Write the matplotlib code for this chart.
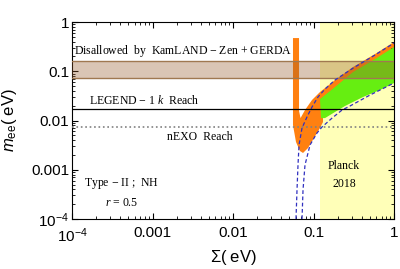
import numpy as np
import matplotlib.pyplot as plt
from matplotlib.ticker import FixedLocator, FixedFormatter, LogLocator, NullFormatter

plt.rcParams['font.family'] = 'Liberation Sans'
plt.rcParams['mathtext.fontset'] = 'custom'
plt.rcParams['mathtext.rm'] = 'Liberation Serif'
plt.rcParams['mathtext.it'] = 'Liberation Serif:italic'
plt.rcParams['mathtext.sf'] = 'Liberation Sans'
plt.rcParams['mathtext.bf'] = 'Liberation Sans:italic'

# limites experimentales
kamland_lo, kamland_hi = 0.0727, 0.16
legend_reach = 0.017
nexo_reach = 0.0074
planck_min = 0.12

# curvas de borde NH (Sigma, m_ee)
upper_sum = [0.0606, 0.0624, 0.0642, 0.0661, 0.0720, 0.0830, 0.0958, 0.1137, 0.139, 0.185, 0.31, 0.58, 1.0]
upper_mee = [1e-4, 0.00039, 0.00125, 0.00318, 0.00704, 0.0118, 0.0188, 0.0300, 0.0436, 0.0664, 0.116, 0.214, 0.375]
lower_sum = [0.0720, 0.0741, 0.0784, 0.0905, 0.1105, 0.1275, 0.170, 0.226, 0.284, 0.503, 0.944, 1.0]
lower_mee = [1e-4, 0.00039, 0.00125, 0.00318, 0.00557, 0.00738, 0.0112, 0.0163, 0.0197, 0.0329, 0.0551, 0.0577]

# region permitida (naranja)
orange_sum = [0.0556, 0.0661, 0.0661, 0.069, 0.0784, 0.0958, 0.1204, 0.185, 0.3095, 0.581, 1.0,
              1.0, 0.2135, 0.1312, 0.1312, 0.1204, 0.1014, 0.0855, 0.0741, 0.068, 0.0606, 0.0556]
orange_mee = [0.473, 0.473, 0.0157, 0.0112, 0.0163, 0.0261, 0.0379, 0.0664, 0.122, 0.224, 0.393,
              0.169, 0.0329, 0.0163, 0.00932, 0.00704, 0.00441, 0.00276, 0.00219, 0.0024, 0.00366, 0.0081]

# region permitida con Planck (verde)
green_sum = [0.1204, 0.185, 0.3095, 0.581, 1.0, 1.0, 0.670, 0.412, 0.246, 0.185, 0.139, 0.124]
green_mee = [0.0273, 0.0479, 0.0965, 0.177, 0.311, 0.0577, 0.0416, 0.0300, 0.0197, 0.0149, 0.0112, 0.0112]

xticks = [1e-4, 1e-3, 1e-2, 0.1, 1]
xtick_labels = [r'$\mathsf{10^{-4}}$', '0.001', '0.01', '0.1', '1']
yticks = [1e-4, 1e-3, 1e-2, 0.1, 1]
ytick_labels = [r'$\mathsf{10^{-4}}$', '0.001', '0.01', '0.1', '1']

fig = plt.figure(figsize=(4, 2.69), dpi=100)
ax = fig.add_axes([0.18, 0.186, 0.805, 0.732])
ax.set_xscale('log')
ax.set_yscale('log')

ax.axvspan(planck_min, 1, color='#ffffb8', lw=0, zorder=0)
ax.fill(orange_sum, orange_mee, color='#ff8010', lw=0, zorder=1)
ax.fill(green_sum, green_mee, color='#66ee11', lw=0, zorder=2)
ax.axhspan(kamland_lo, kamland_hi, color=(0.59, 0.35, 0.16), alpha=0.35, lw=0, zorder=3)
ax.axhline(kamland_lo, color='#a07850', lw=1, zorder=3)
ax.axhline(kamland_hi, color='#a07850', lw=1, zorder=3)
ax.plot(upper_sum, upper_mee, ls=(0, (3, 2)), color='#3030c0', lw=0.9, zorder=4)
ax.plot(lower_sum, lower_mee, ls=(0, (3, 2)), color='#3030c0', lw=0.9, zorder=4)
ax.axhline(legend_reach, color='black', lw=0.9, zorder=5)
ax.axhline(nexo_reach, color='gray', ls=':', lw=1.2, zorder=5)

ax.set_xlim(1e-4, 1)
ax.set_ylim(1e-4, 1)

serif = dict(family='Liberation Serif', fontsize=8.5, ha='center', va='center', zorder=6)
ax.text(0.00239, 0.258, 'Disallowed  by  KamLAND $-$ Zen + GERDA', **serif)
ax.text(0.000783, 0.0261, r'LEGEND $-$ 1 $k$  Reach', **serif)
ax.text(0.00389, 0.00462, 'nEXO  Reach', **serif)
ax.text(0.000412, 0.000514, 'Type $-$ II ;  NH', **serif)
ax.text(0.000412, 0.000211, r'$r$ = 0.5', **serif)
ax.text(0.235, 0.00119, 'Planck', **serif)
ax.text(0.245, 0.000514, '2018', **serif)

ax.xaxis.set_major_locator(FixedLocator(xticks))
ax.xaxis.set_major_formatter(FixedFormatter(xtick_labels))
ax.yaxis.set_major_locator(FixedLocator(yticks))
ax.yaxis.set_major_formatter(FixedFormatter(ytick_labels))
ax.xaxis.set_minor_locator(LogLocator(base=10, subs=np.arange(2, 10)))
ax.yaxis.set_minor_locator(LogLocator(base=10, subs=np.arange(2, 10)))
ax.xaxis.set_minor_formatter(NullFormatter())
ax.yaxis.set_minor_formatter(NullFormatter())
ax.tick_params(which='both', direction='in', top=True, right=True, labelsize=11)
ax.tick_params(axis='y', which='major', pad=2)
ax.tick_params(axis='x', which='major', pad=5)
ax.tick_params(which='major', length=4, width=0.8)
ax.tick_params(which='minor', length=2, width=0.6)

ax.set_xlabel(r'$\mathsf{\Sigma(\ eV)}$', fontsize=12)
ax.set_ylabel(r'$\mathbf{m}_{\mathsf{ee}}\mathsf{(\ eV)}$', fontsize=12)
ax.yaxis.set_label_coords(-0.165, 0.5)
ax.xaxis.set_label_coords(0.5, -0.145)

plt.savefig('out.png', dpi=100)
